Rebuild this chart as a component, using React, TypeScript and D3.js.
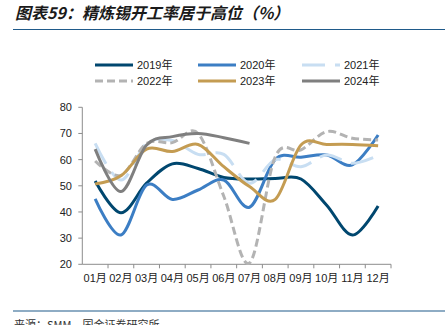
import React from "react";
import * as d3 from "d3";

const months = ["01月", "02月", "03月", "04月", "05月", "06月", "07月", "08月", "09月", "10月", "11月", "12月"];
const yTicks = [20, 30, 40, 50, 60, 70, 80];

const s2019 = [51.8, 39.7, 51, 58.4, 56.6, 53.2, 52.6, 52.8, 52.6, 42.6, 31.2, 42.3];
const s2020 = [45, 31.2, 50.3, 44.8, 48.4, 52.2, 41.8, 60.1, 60.9, 61.8, 58, 69.4];
const s2021 = [66.2, 52.2, 66.2, 67.3, 62, 62, 51, 60, 57.3, 61.8, 58.6, 61.6];
const s2022 = [59.5, 54, 66.2, 66.5, 70, 46, 20.5, 61.1, 63.7, 70.7, 68.2, 67.5];
const s2023 = [50.7, 53.8, 64, 63.1, 65.8, 57.3, 49.7, 44.8, 65.6, 65.8, 65.8, 65.3];
const s2024 = [64, 47.8, 65.6, 68.8, 70, 68.4, 66.2];

const seriesNames = ["2019年", "2020年", "2021年", "2022年", "2023年", "2024年"];
const seriesData = [s2019, s2020, s2021, s2022, s2023, s2024];
const colors = ["#00476f", "#3c7ec4", "#c8def2", "#b3b3b3", "#c49c52", "#7f7f7f"];
const dashes = [null, null, "23,10", "8,4", null, null];

export default function App() {
  const left = 82.3, right = 391, top = 107.3, bottom = 264.3;
  const x = d3.scaleBand<string>().domain(months).range([left, right]);
  const y = d3.scaleLinear().domain([20, 80]).range([bottom, top]);
  const line = d3
    .line<number>()
    .x((_, i) => (x(months[i]) as number) + x.bandwidth() / 2)
    .y((d) => y(d))
    .curve(d3.curveCatmullRom.alpha(0));

  const font = "'Liberation Sans', Arial, 'Noto Sans CJK SC', sans-serif";
  const legendCols = [95, 198, 302];
  const legendRows = [65, 81];

  return (
    <svg
      width={445}
      height={325}
      style={{ position: "absolute", left: 0, top: 0, background: "#fff" }}
      fontFamily={font}
    >
      <text
        x={15}
        y={19}
        fontSize={16}
        fontWeight="bold"
        fontStyle="italic"
        fill="#1a1a1a"
        fontFamily="'Noto Sans CJK SC', sans-serif"
      >
        图表59：精炼锡开工率居于高位（%）
      </text>
      <line x1={13} x2={445} y1={29.5} y2={29.5} stroke="#1f5a8a" strokeWidth={1.2} />

      {seriesNames.map((n, i) => {
        const cx = legendCols[i % 3];
        const cy = legendRows[Math.floor(i / 3)];
        return (
          <g key={n}>
            <line
              x1={cx}
              x2={cx + 38}
              y1={cy}
              y2={cy}
              stroke={colors[i]}
              strokeWidth={3}
              strokeDasharray={dashes[i] ?? undefined}
            />
            <text x={cx + 42} y={cy + 4} fontSize={11} fill="#222">
              {n}
            </text>
          </g>
        );
      })}

      {/* axes */}
      <line x1={left} x2={left} y1={top} y2={bottom} stroke="#8c8c8c" strokeWidth={1} />
      <line x1={left} x2={right} y1={bottom} y2={bottom} stroke="#8c8c8c" strokeWidth={1} />
      {yTicks.map((t) => (
        <g key={t}>
          <line x1={left - 4} x2={left} y1={y(t)} y2={y(t)} stroke="#8c8c8c" />
          <text x={72} y={y(t) + 4} fontSize={11} textAnchor="end" fill="#222">
            {t}
          </text>
        </g>
      ))}
      {months.map((m, i) => (
        <g key={m}>
          <line
            x1={(x(m) as number) + x.bandwidth()}
            x2={(x(m) as number) + x.bandwidth()}
            y1={bottom}
            y2={bottom + 4}
            stroke="#8c8c8c"
          />
          <text
            x={(x(m) as number) + x.bandwidth() / 2}
            y={282}
            fontSize={11}
            textAnchor="middle"
            fill="#222"
          >
            {m}
          </text>
        </g>
      ))}

      {seriesData.map((d, i) => (
        <path
          key={i}
          d={line(d) ?? ""}
          fill="none"
          stroke={colors[i]}
          strokeWidth={3}
          strokeDasharray={dashes[i] ?? undefined}
          strokeLinecap="butt"
        />
      ))}

      <line x1={13} x2={445} y1={311} y2={311} stroke="#1f5a8a" strokeWidth={1.2} />
      <text x={14} y={329} fontSize={11} fill="#333" fontFamily="'Noto Sans CJK SC', sans-serif">
        来源：SMM，国金证券研究所
      </text>
    </svg>
  );
}
